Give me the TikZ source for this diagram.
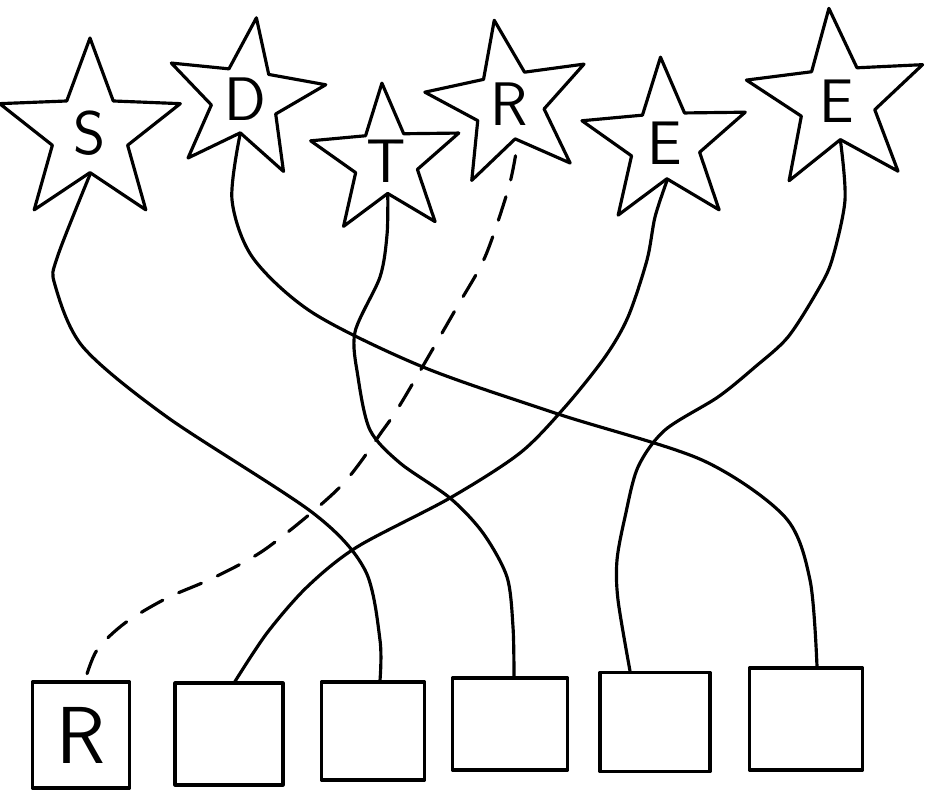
\documentclass[tikz,border=0pt]{standalone}
\usetikzlibrary{shapes.geometric,calc}

\begin{document}
\begin{tikzpicture}[x=0.02cm,y=-0.02cm,line width=1.8pt,line join=round,line cap=round,
    wish/.style={star,star points=5,star point ratio=2.4,draw,inner sep=0pt,
      font=\sffamily\fontsize{35}{35}\selectfont},
    slot/.style={draw,inner sep=0pt,font=\sffamily\fontsize{46}{46}\selectfont}]
  \useasboundingbox (0,0) rectangle (930,791);

  % stars
  \node[wish,minimum size=3.8cm] (S) at (90,133) {S};
  \node[wish,minimum size=3.28cm,shape border rotate=-8] (D) at (245,99) {D};
  \node[wish,minimum size=3.12cm,shape border rotate=3] (T) at (386,161) {T};
  \node[wish,minimum size=3.4cm,shape border rotate=10] (R) at (509,104) {R};
  \node[wish,minimum size=3.44cm,shape border rotate=3] (E1) at (665,143) {E};
  \node[wish,minimum size=3.72cm,shape border rotate=5] (E2) at (837,101) {E};

  % boxes
  \node[slot,minimum width=1.94cm,minimum height=2.12cm] (b1) at (81,735) {R};
  \node[slot,minimum width=2.16cm,minimum height=2.04cm] (b2) at (229,734) {};
  \node[slot,minimum width=2.06cm,minimum height=1.96cm] (b3) at (373,731) {};
  \node[slot,minimum width=2.3cm,minimum height=1.84cm] (b4) at (510,724) {};
  \node[slot,minimum width=2.2cm,minimum height=1.98cm] (b5) at (655,722) {};
  \node[slot,minimum width=2.26cm,minimum height=2.04cm] (b6) at (806,719) {};

  % strings
  \draw plot[smooth] coordinates {(S.inner point 3) (57,258) (55,285) (83,347)
    (167,417) (313,513) (365,570) (380,640) ($(b3.north)+(7,0)$)};
  \draw plot[smooth] coordinates {(D.inner point 3) (232,200) (253,258) (313,313)
    (423,367) (558,414) (702,460) (785,517) (810,580) ($(b6.north)+(11,0)$)};
  \draw plot[smooth] coordinates {(T.inner point 3) (387,235) (380,277) (355,332)
    (358,377) (370,430) (400,463) (450,498) (483,533) (507,577) (513,627)
    ($(b4.north)+(4,0)$)};
  \draw[dash pattern=on 14pt off 10pt] plot[smooth] coordinates {($(R.inner point 3)+(0,15)$)
    (508,190) (485,257) (457,307) (403,400) (383,430) (340,487) (267,548)
    (213,578) (167,598) (125,623) (97,650) ($(b1.north)+(4,0)$)};
  \draw plot[smooth] coordinates {(E1.inner point 3) (655,217) (647,260) (628,317)
    (605,357) (565,407) (520,453) (450,498) (357,547) (307,587) (267,633)
    ($(b2.north)+(6,0)$)};
  \draw plot[smooth] coordinates {(E2.inner point 3) (845,200) (832,260) (818,290)
    (788,337) (755,367) (718,397) (665,430) (638,467) (625,517) (617,560)
    (618,600) ($(b5.north)+(-25,0)$)};
\end{tikzpicture}
\end{document}
